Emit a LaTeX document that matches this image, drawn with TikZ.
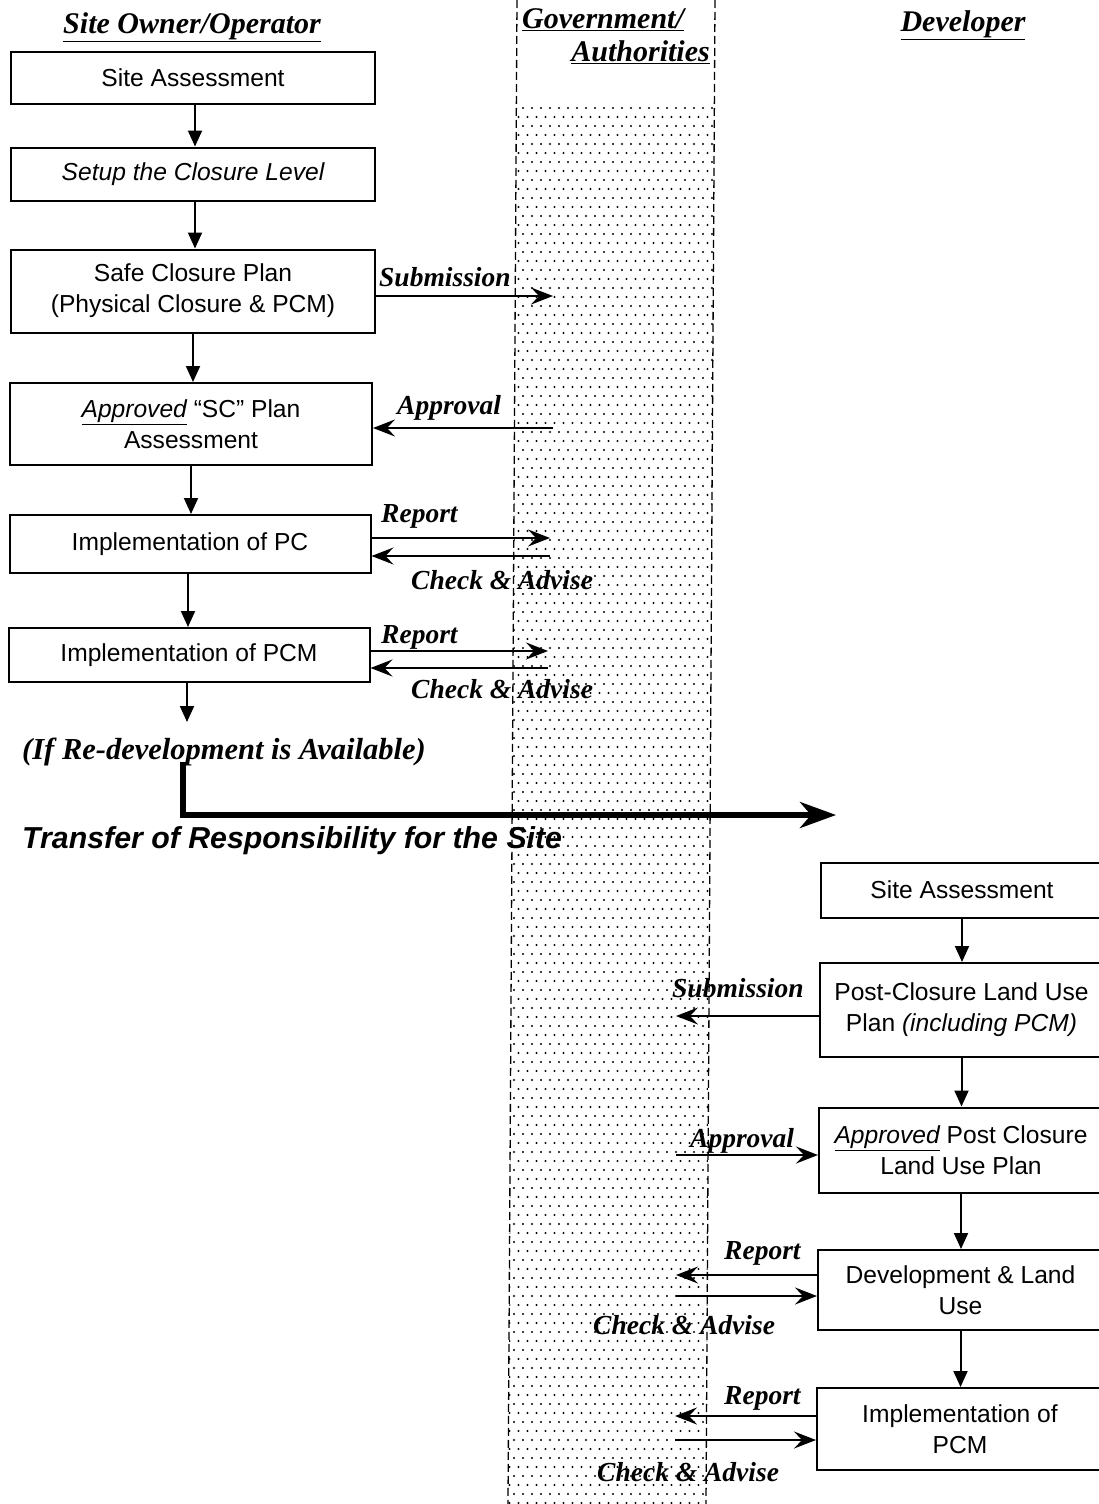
\documentclass[tikz,border=0pt]{standalone}
\usepackage{fontspec}
\usepackage{tikz}
\usetikzlibrary{arrows.meta}
\newfontfamily\boxfont{Liberation Sans}
\newfontfamily\labfont{Liberation Serif}

\tikzset{
  stepbox/.style={draw, line width=2pt, inner sep=0pt, align=center,
    font=\boxfont\fontsize{24.6}{31}\selectfont},
  downarr/.style={line width=2pt, -{Triangle[length=16pt,width=14pt]}},
  sidearr/.style={line width=2pt, -{Stealth[length=22pt,width=17pt,inset=8pt]}},
  lab/.style={font=\labfont\bfseries\itshape\fontsize{27.5}{30}\selectfont, inner sep=0pt},
  head/.style={font=\labfont\bfseries\itshape\fontsize{30}{34}\selectfont, inner sep=0pt},
  bandline/.style={line width=1.3pt, dash pattern=on 8pt off 4pt},
}

\begin{document}
\begin{tikzpicture}[x=1pt,y=-1pt]
\useasboundingbox (0,0) rectangle (1099,1504);
%band
\begin{scope}
\clip (517,105) -- (715,105) -- (706,1504) -- (508,1504) -- cycle;
\foreach \r in {0,...,155}{
  \pgfmathsetmacro{\yy}{108+9*\r}
  \pgfmathsetmacro{\xo}{mod(\r,2)*4.5}
  \foreach \c in {0,...,23}
    \fill (505+\xo+9*\c,\yy) circle (1.1pt);
}
\end{scope}
\draw[bandline] (517,0) -- (508,1504);
\draw[bandline] (715,0) -- (706,1504);
%headers
\node[head] (ownerhd) at (192,27) {\underline{Site Owner/Operator}};
\node[head, anchor=west] (govhd) at (522,20) {\underline{Government/}};
\node[head, anchor=east] (authhd) at (710,52) {\underline{Authorities}};
\node[head] (devhd) at (963,25) {\underline{Developer}};
%owner side
\node[stepbox, minimum width=364pt, minimum height=52pt] (l1) at (193,78) {Site Assessment};
\node[stepbox, minimum width=364pt, minimum height=53pt] (l2) at (193,174) {\itshape Setup the Closure Level};
\node[stepbox, minimum width=364pt, minimum height=83pt] (l3) at (193,291) {Safe Closure Plan\\(Physical Closure \& PCM)};
\node[stepbox, minimum width=362pt, minimum height=82pt] (l4) at (191,424) {\underline{\itshape Approved} “SC” Plan\\Assessment};
\node[stepbox, minimum width=361pt, minimum height=58pt] (l5) at (190,544) {Implementation of PC};
\node[stepbox, minimum width=361pt, minimum height=54pt] (l6) at (189,655) {Implementation of PCM};
\coordinate (l6end) at (187,722);
\draw[downarr] ([xshift=2pt]l1.south) -- ([xshift=2pt]l1.south |- l2.north);
\draw[downarr] ([xshift=2pt]l2.south) -- ([xshift=2pt]l2.south |- l3.north);
\draw[downarr] (l3.south) -- (l3.south |- l4.north);
\draw[downarr] (l4.south) -- (l4.south |- l5.north);
\draw[downarr] ([xshift=-2pt]l5.south) -- ([xshift=-2pt]l5.south |- l6.north);
\draw[downarr] (l6end |- l6.south) -- (l6end);
\coordinate (s1) at (553,296);
\coordinate (a1) at (553,428);
\coordinate (r1) at (550,538);
\coordinate (c1) at (550,556);
\coordinate (r2) at (548,651);
\coordinate (c2) at (548,668);
\draw[sidearr] (l3.east |- s1) -- (s1);
\draw[sidearr] (a1) -- (l4.east |- a1);
\draw[sidearr] (l5.east |- r1) -- (r1);
\draw[sidearr] (c1) -- (l5.east |- c1);
\draw[sidearr] (l6.east |- r2) -- (r2);
\draw[sidearr] (c2) -- (l6.east |- c2);
\node[lab, anchor=west] (sublab1) at (379,277) {Submission};
\node[lab, anchor=west] (applab1) at (397,408) {Approval};
\node[lab, anchor=west] (replab1) at (381,516) {Report};
\node[lab, anchor=west] (chklab1) at (411,580) {Check \& Advise};
\node[lab, anchor=west] (replab2) at (381,637) {Report};
\node[lab, anchor=west] (chklab2) at (411,689) {Check \& Advise};
%transfer
\node[lab, anchor=west, font=\labfont\bfseries\itshape\fontsize{30.5}{34}\selectfont] (iflab) at (22,752) {(If Re-development is Available)};
\coordinate (trstart) at (183,762);
\coordinate (trend) at (836,815);
\draw[line width=5.5pt, -{Stealth[length=36pt,width=26pt,inset=11pt]}] (trstart) |- (trend);
\node[anchor=west, inner sep=0pt, font=\boxfont\bfseries\itshape\fontsize{30.3}{34}\selectfont] (trlab) at (22,841) {Transfer of Responsibility for the Site};
%developer side
\node[stepbox, minimum width=282pt, minimum height=55pt] (d1) at (962,890) {Site Assessment};
\node[stepbox, minimum width=283pt, minimum height=94pt] (d2) at (961.5,1010) {Post-Closure Land Use\\Plan \textit{(including PCM)}};
\node[stepbox, minimum width=284pt, minimum height=85pt] (d3) at (961,1150) {\underline{\itshape Approved} Post Closure\\Land Use Plan};
\node[stepbox, minimum width=285pt, minimum height=80pt] (d4) at (960.5,1290) {Development \& Land\\Use};
\node[stepbox, minimum width=286pt, minimum height=82pt] (d5) at (960,1429) {Implementation of\\PCM};
\draw[downarr] (d1.south) -- (d1.south |- d2.north);
\draw[downarr] (d2.south) -- (d2.south |- d3.north);
\draw[downarr] (d3.south) -- (d3.south |- d4.north);
\draw[downarr] (d4.south) -- (d4.south |- d5.north);
\coordinate (s2) at (676,1016);
\coordinate (a2) at (676,1155);
\coordinate (r3) at (676,1275);
\coordinate (c3) at (676,1296);
\coordinate (r4) at (675,1416);
\coordinate (c4) at (675,1440);
\draw[sidearr] (d2.west |- s2) -- (s2);
\draw[sidearr] (a2) -- (d3.west |- a2);
\draw[sidearr] (d4.west |- r3) -- (r3);
\draw[sidearr] (c3) -- (d4.west |- c3);
\draw[sidearr] (d5.west |- r4) -- (r4);
\draw[sidearr] (c4) -- (d5.west |- c4);
\node[lab, anchor=west] (sublab2) at (672,988) {Submission};
\node[lab, anchor=west] (applab2) at (690,1141) {Approval};
\node[lab, anchor=west] (replab3) at (724,1253) {Report};
\node[lab, anchor=west] (chklab3) at (593,1325) {Check \& Advise};
\node[lab, anchor=west] (replab4) at (724,1398) {Report};
\node[lab, anchor=west] (chklab4) at (597,1472) {Check \& Advise};
\end{tikzpicture}
\end{document}
